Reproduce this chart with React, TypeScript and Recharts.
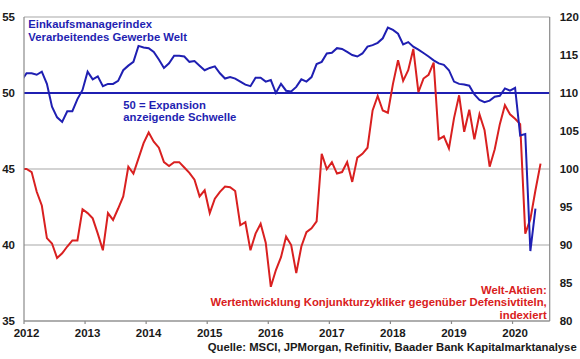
import React from 'react';
import { ComposedChart, Line, XAxis, YAxis, CartesianGrid, ReferenceLine } from 'recharts';

// Monthly values, index 0 = Dec 2011
const yearLabels = ['2012', '2013', '2014', '2015', '2016', '2017', '2018', '2019', '2020'];

// Einkaufsmanagerindex Verarbeitendes Gewerbe Welt (left axis), Dec 2011 .. May 2020
const pmiValues = [
  50.8,
  51.3, 51.3, 51.2, 51.4, 50.6, 49.1, 48.4, 48.1, 48.8, 48.8, 49.6, 50.2,
  51.4, 50.9, 51.1, 50.45, 50.6, 50.6, 50.8, 51.5, 51.8, 52.05, 53.1, 53.0,
  52.95, 52.7, 52.2, 51.65, 51.95, 52.45, 52.45, 52.4, 52.05, 52.1, 51.8, 51.5,
  51.65, 51.75, 51.3, 50.95, 51.05, 50.95, 50.75, 50.55, 50.45, 51.0, 51.0, 50.75,
  50.85, 50.0, 50.6, 50.15, 50.1, 50.4, 50.9, 50.75, 51.05, 51.9, 52.05, 52.6,
  52.65, 52.95, 52.9, 52.7, 52.5, 52.4, 52.6, 53.05, 53.15, 53.3, 53.6, 54.3,
  54.15, 53.9, 53.2, 53.35, 53.05, 52.85, 52.63, 52.4, 52.15, 51.95, 51.85, 51.5,
  50.75, 50.6, 50.56, 50.48, 49.9, 49.55, 49.4, 49.5, 49.75, 49.82, 50.3, 50.15,
  50.34, 47.2, 47.3, 39.6, 42.4,
];

// Welt-Aktien: Konjunkturzykliker vs. Defensivtitel, indexiert (right axis), Dec 2011 .. Jun 2020
const aktienValues = [
  100.0,
  100.0, 99.6, 97.0, 95.2, 90.9, 90.2, 88.3, 88.9, 89.8, 90.6, 90.6, 94.7,
  94.2, 93.5, 91.5, 89.3, 94.2, 93.3, 94.8, 96.4, 100.3, 99.4, 101.4, 103.4,
  104.8, 103.6, 102.8, 100.9, 100.4, 100.9, 100.9, 100.2, 99.5, 98.6, 96.4, 97.2,
  94.2, 96.1, 97.0, 97.7, 97.6, 97.1, 92.6, 93.0, 89.3, 91.5, 92.8, 90.3,
  84.5, 86.7, 88.4, 91.1, 90.0, 86.3, 89.8, 91.7, 92.2, 93.1, 102.0, 100.0,
  100.9, 99.4, 99.6, 100.9, 98.3, 101.5, 102.0, 102.8, 107.7, 109.6, 107.7, 107.4,
  111.2, 114.3, 111.6, 113.0, 115.8, 110.1, 111.9, 112.4, 114.0, 103.9, 104.3, 102.7,
  106.7, 109.7, 104.9, 107.8, 103.9, 107.2, 105.1, 100.3, 102.6, 105.9, 108.4, 107.2,
  106.6, 105.9, 91.5, 93.4, 97.2, 100.7,
];

const leftTicks = [35, 40, 45, 50, 55];
const rightTicks = [80, 85, 90, 95, 100, 105, 110, 115, 120];

const data = aktienValues.map((a, i) => ({
  m: i,
  aktien: a,
  pmi: i < pmiValues.length ? pmiValues[i] : undefined,
}));
const yearTicks = yearLabels.map((_, i) => 0.5 + 12 * i);

const BLUE = '#1f1fb2';
const RED = '#d92020';
const AXIS = '#8a8a8a';
const GRID = '#a8a8a8';
const FONT = '"Liberation Sans", Arial, sans-serif';
const tickStyle = { fontSize: 11.5, fontWeight: 700, fill: '#1a1a1a', fontFamily: FONT };

export default function App() {
  return (
    <div style={{ position: 'absolute', left: 0, top: 0, width: 580, height: 359, background: '#fff' }}>
      <ComposedChart width={580} height={359} data={data} margin={{ top: 17, right: 0, bottom: 0, left: 0 }}>
        <CartesianGrid yAxisId="l" vertical={false} stroke={GRID} strokeWidth={1.2} />
        <XAxis
          type="number"
          dataKey="m"
          domain={[0.5, 103.8]}
          allowDataOverflow
          ticks={yearTicks}
          tickFormatter={(v: number) => yearLabels[Math.round((v - 0.5) / 12)]}
          height={38}
          stroke={AXIS}
          strokeWidth={1.2}
          tickSize={3}
          tickMargin={5}
          tick={{ ...tickStyle, dx: 2.5 }}
          interval={0}
        />
        <YAxis
          yAxisId="l"
          domain={[35, 55]}
          ticks={leftTicks}
          allowDataOverflow
          width={24}
          stroke={AXIS}
          strokeWidth={1.2}
          tickLine={false}
          tickMargin={3}
          tick={tickStyle}
          interval={0}
        />
        <YAxis
          yAxisId="r"
          orientation="right"
          domain={[80, 120]}
          ticks={rightTicks}
          allowDataOverflow
          width={30.3}
          stroke={AXIS}
          strokeWidth={1.2}
          tickLine={false}
          tickMargin={4}
          tick={{ ...tickStyle, textAnchor: 'start' }}
          interval={0}
        />
        <ReferenceLine yAxisId="l" y={50} stroke={BLUE} strokeWidth={2} ifOverflow="hidden" />
        <Line
          yAxisId="r"
          dataKey="aktien"
          type="linear"
          stroke={RED}
          strokeWidth={2}
          dot={false}
          activeDot={false}
          isAnimationActive={false}
        />
        <Line
          yAxisId="l"
          dataKey="pmi"
          type="linear"
          stroke={BLUE}
          strokeWidth={2}
          dot={false}
          activeDot={false}
          connectNulls={false}
          isAnimationActive={false}
        />
      </ComposedChart>
      <svg
        width={580}
        height={359}
        style={{ position: 'absolute', left: 0, top: 0, pointerEvents: 'none' }}
        fontFamily={FONT}
        fontWeight={700}
        fontSize={11.3}
      >
        <text x={28.3} y={28} fill={BLUE}>Einkaufsmanagerindex</text>
        <text x={28.3} y={40.5} fill={BLUE}>Verarbeitendes Gewerbe Welt</text>
        <text x={123.3} y={109} fill={BLUE}>50 = Expansion</text>
        <text x={123.3} y={121} fill={BLUE}>anzeigende Schwelle</text>
        <text x={546.7} y={293.5} fill={RED} textAnchor="end">Welt-Aktien:</text>
        <text x={546.7} y={306} fill={RED} textAnchor="end">Wertentwicklung Konjunkturzykliker gegenüber Defensivtiteln,</text>
        <text x={546.7} y={318.5} fill={RED} textAnchor="end">indexiert</text>
        <text x={576.7} y={350.5} fill="#1a1a1a" textAnchor="end">Quelle: MSCI, JPMorgan, Refinitiv, Baader Bank Kapitalmarktanalyse</text>
      </svg>
    </div>
  );
}
